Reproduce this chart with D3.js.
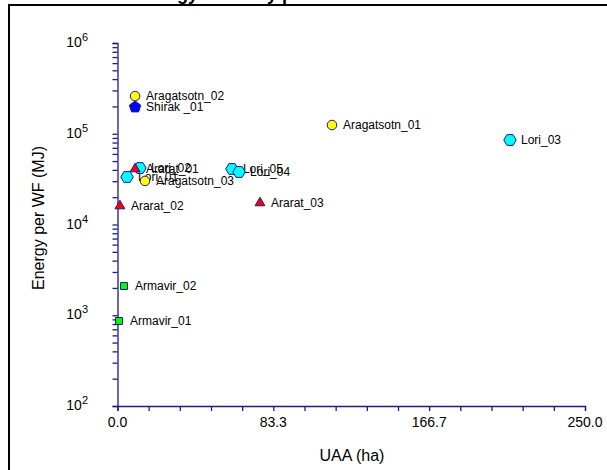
<!DOCTYPE html>
<html>
<head>
<meta charset="utf-8">
<script src="https://cdn.jsdelivr.net/npm/d3@7"></script>
<style>
  body { margin: 0; background: #fff; }
  text { font-family: "Liberation Sans", Arial, sans-serif; }
</style>
</head>
<body>
<svg width="607" height="470"></svg>
<script>
// farm names, UAA (ha), energy per WF (MJ), region group
const names = ["Aragatsotn_02", "Shirak _01", "Aragatsotn_01", "Lori_03", "Lori_02", "Ararat_01",
  "Lori_01", "Aragatsotn_03", "Lori_05", "Lori_04", "Ararat_02", "Ararat_03", "Armavir_02", "Armavir_01"];
const uaa = [9.4, 9.4, 114.7, 209.9, 12.0, 9.4, 5.1, 14.7, 61.2, 65.0, 1.3, 76.2, 3.5, 0.8];
const energy = [260000, 197000, 124800, 85300, 41900, 40900, 33400, 30200, 40900, 37900, 16000, 17300, 2100, 865];
const region = ["Aragatsotn", "Shirak", "Aragatsotn", "Lori", "Lori", "Ararat", "Lori", "Aragatsotn",
  "Lori", "Lori", "Ararat", "Ararat", "Armavir", "Armavir"];
const xTicks = [0, 83.3, 166.7, 250];
const yTicks = [2, 3, 4, 5, 6];

const symbols = {
  Aragatsotn: { type: d3.symbolCircle, fill: "#ffff00", size: 72 },
  Shirak: { type: "pentagon", fill: "#0000ff", size: 80 },
  Lori: { type: "hexagon", fill: "#00ffff", size: 90 },
  Ararat: { type: d3.symbolTriangle, fill: "#ff0000", size: 42 },
  Armavir: { type: d3.symbolSquare, fill: "#00ff00", size: 48 }
};

const svg = d3.select("svg");
const axisColor = "#1a1a8c";

const x = d3.scaleLinear().domain([0, 250]).range([117.5, 585]);
const y = d3.scaleLog().domain([100, 1e6]).range([406, 43]);

// outer frame (cut off at the right and bottom)
svg.append("path")
  .attr("d", "M9,470 L9,5 L607,5")
  .attr("fill", "none")
  .attr("stroke", "#000")
  .attr("stroke-width", 2);

// title, mostly clipped by the top edge
svg.append("text")
  .attr("x", 137).attr("y", 0)
  .attr("font-size", 18).attr("font-weight", "bold")
  .text("Energy intensity per WF");

// x axis
const xAxis = d3.axisBottom(x)
  .tickValues(d3.range(0, 250.01, 250 / 15))
  .tickSize(5)
  .tickFormat(() => "");
const gx = svg.append("g").attr("transform", "translate(0,406)").call(xAxis);
gx.select(".domain").attr("stroke", axisColor).attr("stroke-width", 1.3);
gx.selectAll(".tick line").attr("stroke", axisColor).attr("stroke-width", 1.3);

svg.selectAll(".xlab").data(xTicks).join("text")
  .attr("class", "xlab")
  .attr("x", d => x(d))
  .attr("y", 427)
  .attr("text-anchor", "middle")
  .attr("font-size", 14)
  .text(d => d.toFixed(1));

// y axis with log minor ticks
const minor = [];
for (let e = 2; e < 6; e++) for (let m = 2; m <= 9; m++) minor.push(m * Math.pow(10, e));
const yAxis = d3.axisLeft(y)
  .tickValues(minor.concat(yTicks.map(e => Math.pow(10, e))))
  .tickSize(5)
  .tickFormat(() => "");
const gy = svg.append("g").attr("transform", "translate(117.5,0)").call(yAxis);
gy.select(".domain").attr("stroke", axisColor).attr("stroke-width", 1.3);
gy.selectAll(".tick line").attr("stroke", axisColor).attr("stroke-width", 1.3);

const ylab = svg.selectAll(".ylab").data(yTicks).join("text")
  .attr("class", "ylab")
  .attr("x", 88)
  .attr("y", d => y(Math.pow(10, d)) + 4)
  .attr("text-anchor", "end")
  .attr("font-size", 14);
ylab.append("tspan").text("10");
ylab.append("tspan").attr("dy", -6).attr("font-size", 11).text(d => d);

// axis titles
svg.append("text")
  .attr("transform", "translate(44,218) rotate(-90)")
  .attr("text-anchor", "middle")
  .attr("font-size", 16)
  .text("Energy per WF (MJ)");
svg.append("text")
  .attr("x", 352).attr("y", 461)
  .attr("text-anchor", "middle")
  .attr("font-size", 16)
  .text("UAA (ha)");

// polygon marker helper
function poly(n, r, rot) {
  const pts = d3.range(n).map(i => {
    const a = rot + i * 2 * Math.PI / n;
    return [r * Math.cos(a), r * Math.sin(a)];
  });
  return "M" + pts.map(p => p.join(",")).join("L") + "Z";
}
function markerPath(s) {
  if (s.type === "pentagon") return poly(5, 6, -Math.PI / 2);
  if (s.type === "hexagon") return poly(6, 6.2, 0);
  return d3.symbol().type(s.type).size(s.size)();
}

const idx = d3.range(names.length);

// labels first, markers on top
svg.selectAll(".plab").data(idx).join("text")
  .attr("class", "plab")
  .attr("x", i => x(uaa[i]) + 11)
  .attr("y", i => y(energy[i]) + 4)
  .attr("font-size", 12)
  .text(i => names[i]);

svg.selectAll(".mark").data(idx).join("path")
  .attr("class", "mark")
  .attr("transform", i => `translate(${x(uaa[i])},${y(energy[i])})`)
  .attr("d", i => markerPath(symbols[region[i]]))
  .attr("fill", i => symbols[region[i]].fill)
  .attr("stroke", axisColor)
  .attr("stroke-width", 1);
</script>
</body>
</html>
